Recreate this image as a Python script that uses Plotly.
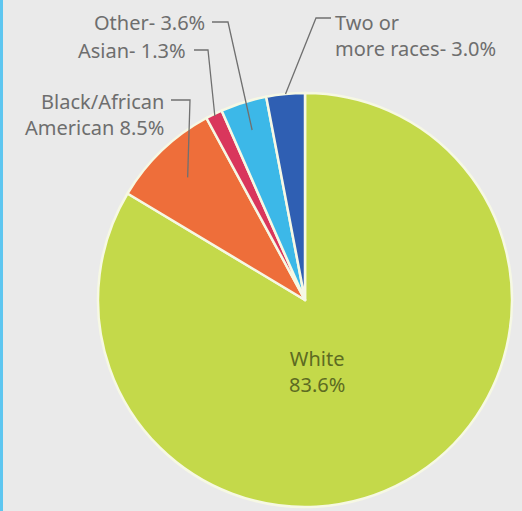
import math
import plotly.graph_objects as go

# Population by race (percent), clockwise from 12 o'clock
groups = ["White", "Black/African American", "Asian", "Other", "Two or more races"]
shares = [83.6, 8.5, 1.3, 3.6, 3.0]
colors = ["#c4d94a", "#ee6e3a", "#d9365c", "#3cb8e8", "#2f5fb3"]

# Callout label texts (outside the pie)
callout_text = {
    "Black/African American": "Black/African<br>American 8.5%",
    "Asian": "Asian- 1.3%",
    "Other": "Other- 3.6%",
    "Two or more races": "Two or<br>more races- 3.0%",
}

W, H = 522, 511
CX, CY, R = 305, 300, 207  # pie centre / radius in pixels (from top-left)

def px(x):
    return x / W

def py(y):
    return 1 - y / H

fig = go.Figure(go.Pie(
    labels=groups,
    values=shares,
    sort=False,
    direction="clockwise",
    rotation=0,
    marker=dict(colors=colors, line=dict(color="#f6f8e4", width=2.5)),
    textinfo="none",
    hoverinfo="label+percent",
    domain=dict(x=[px(CX - R), px(CX + R)], y=[py(CY + R), py(CY - R)]),
))

# Mid-angle of each slice (degrees clockwise from 12 o'clock)
total = sum(shares)
mid_angle = {}
acc = 0.0
for g, v in zip(groups, shares):
    mid_angle[g] = (acc + v / 2) / total * 360
    acc += v

def slice_point(group, frac):
    a = math.radians(mid_angle[group])
    return CX + frac * R * math.sin(a), CY - frac * R * math.cos(a)

# label placement: text anchor (px), align, line start, elbow, radial depth of tip
callouts = [
    ("Other", 207, 22, "right", (212, 22), (228, 22), 0.86),
    ("Asian", 188, 50, "right", (194, 50), (208, 50), 0.99),
    ("Black/African American", 166, 114, "right", (171, 100), (190, 100), 0.82),
    ("Two or more races", 333, 35, "left", (331, 18), (316, 18), 1.0),
]

LINE = "#707070"
TEXT = "#6e6e6e"
FONT = "Noto Sans"
SIZE = 20

shapes = [dict(type="rect", xref="paper", yref="paper", x0=0, x1=px(3), y0=0, y1=1,
               fillcolor="#5ec6f0", line=dict(width=0), layer="above")]
annotations = []
for g, tx, ty, align, start, elbow, depth in callouts:
    tipx, tipy = slice_point(g, depth)
    path = "M {} {} L {} {} L {} {}".format(
        px(start[0]), py(start[1]), px(elbow[0]), py(elbow[1]), px(tipx), py(tipy))
    shapes.append(dict(type="path", xref="paper", yref="paper", path=path,
                       line=dict(color=LINE, width=1.3)))
    annotations.append(dict(
        text=callout_text[g], xref="paper", yref="paper", x=px(tx), y=py(ty),
        xanchor=align, yanchor="middle", align=align, showarrow=False,
        font=dict(family=FONT, size=SIZE, color=TEXT)))

annotations.append(dict(
    text="White<br>83.6%", xref="paper", yref="paper", x=px(317), y=py(371),
    xanchor="center", yanchor="middle", align="center", showarrow=False,
    font=dict(family=FONT, size=SIZE, color="#5d6b22")))

fig.update_layout(
    width=W, height=H,
    margin=dict(l=0, r=0, t=0, b=0),
    paper_bgcolor="#eaeaea",
    plot_bgcolor="#eaeaea",
    showlegend=False,
    shapes=shapes,
    annotations=annotations,
)

fig.write_html("out.html")
